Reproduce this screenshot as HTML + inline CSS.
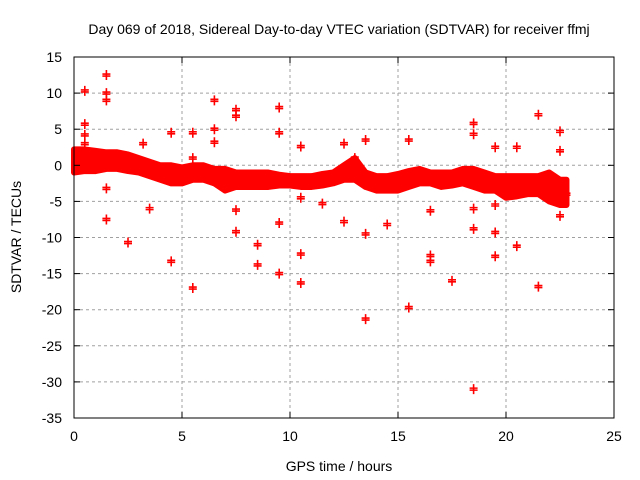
<!DOCTYPE html>
<html><head><meta charset="utf-8"><style>
body{margin:0;background:#fff;}
svg{display:block;font-family:"Liberation Sans",Arial,sans-serif;}
</style></head><body>
<svg id="chart" width="640" height="480" xmlns="http://www.w3.org/2000/svg">
<rect width="640" height="480" fill="#fff"/>
<g id="grid"></g>
<g id="band"></g>
<g id="pts"></g>
<rect x="74" y="57" width="540" height="361" fill="none" stroke="#000" stroke-width="1"/>
<g id="axes"></g>
<text x="339" y="34" text-anchor="middle" font-size="14">Day 069 of 2018, Sidereal Day-to-day VTEC variation (SDTVAR) for receiver ffmj</text>
<text x="339" y="471" text-anchor="middle" font-size="14">GPS time / hours</text>
<text transform="translate(21,237) rotate(-90)" text-anchor="middle" font-size="14">SDTVAR / TECUs</text>
</svg>
<script>
const xTicks=[0,5,10,15,20,25];
const yTicks=[15,10,5,0,-5,-10,-15,-20,-25,-30,-35];
const bandX=[0,0.5,1,1.5,2,2.5,3,3.5,4,4.5,5,5.5,6,6.5,7,7.5,8,8.5,9,9.5,10,10.5,11,11.5,12,12.5,13,13.5,14,14.5,15,15.5,16,16.5,17,17.5,18,18.5,19,19.5,20,20.5,21,21.5,22,22.5,22.8];
const bandLow=[-1,-0.8,-0.8,-0.5,-0.5,-0.8,-1,-1.5,-2,-2.5,-2.5,-2,-2,-2.5,-3.5,-3,-3,-3,-3,-2.8,-2.8,-3,-3,-2.8,-2.5,-2,-2,-3,-3.5,-3.5,-3.5,-3,-2.5,-2.5,-3,-2.8,-2.5,-3,-3.5,-3.5,-4.5,-4.3,-4,-4,-5,-5.5,-5.5];
const bandHigh=[2.2,2.2,2,1.8,1.8,1.5,1,0.5,0,0,-0.3,0,0,-0.5,-0.5,-1,-1,-1,-1,-1.3,-1.5,-1.5,-1.5,-1.2,-1,0,1,-1,-1.5,-1.5,-1.2,-0.8,-0.5,-1,-1,-1,-0.5,-0.5,-1,-1.5,-1.5,-1.5,-1.5,-1.5,-1,-2,-2];
const outX=[0.5,0.5,0.5,0.5,1.5,1.5,1.5,1.5,1.5,2.5,3.5,4.5,4.5,5.5,5.5,5.5,6.5,6.5,6.5,7.5,7.5,7.5,7.5,8.5,8.5,9.5,9.5,9.5,9.5,10.5,10.5,10.5,10.5,11.5,12.5,12.5,13,13.5,13.5,13.5,14.5,15.5,15.5,16.5,16.5,16.5,17.5,18.5,18.5,18.5,18.5,18.5,19.5,19.5,19.5,19.5,20.5,20.5,21.5,21.5,22.5,22.5,22.5,22.8,3.2];
const outY=[10.3,5.7,4.2,3,12.5,10,9,-3.2,-7.5,-10.7,-6,4.5,-13.3,4.5,1,-17,9,5,3.2,7.7,6.8,-6.2,-9.2,-11,-13.8,8,4.5,-8,-15,2.6,-4.5,-12.3,-16.3,-5.3,3,-7.8,1,3.5,-9.5,-21.3,-8.2,3.5,-19.7,-6.3,-12.5,-13.3,-16,5.8,4.3,-6,-8.8,-31,2.5,-5.5,-9.3,-12.6,2.5,-11.2,7,-16.8,4.7,2,-7,-4,3];
const X=v=>74+v*21.6, Y=v=>165.3-v*7.22;
const NS='http://www.w3.org/2000/svg';
function mk(t,a,p){const e=document.createElementNS(NS,t);for(const k in a)e.setAttribute(k,a[k]);p.appendChild(e);return e;}
const grid=document.getElementById('grid'),axes=document.getElementById('axes');
xTicks.forEach(t=>{
 if(t>0&&t<25){const l=mk('line',{x1:X(t),x2:X(t),y1:57,y2:418,stroke:'#a0a0a0','stroke-dasharray':'3,3'},grid);
 
 }
 mk('line',{x1:X(t),x2:X(t),y1:418,y2:412,stroke:'#000'},axes);
 mk('line',{x1:X(t),x2:X(t),y1:57,y2:63,stroke:'#000'},axes);
 const tx=mk('text',{x:X(t),y:441,'text-anchor':'middle','font-size':'14'},axes);tx.textContent=t;
 
 
});
yTicks.forEach(t=>{
 if(t<15&&t>-35){const l=mk('line',{x1:74,x2:614,y1:Y(t),y2:Y(t),stroke:'#a0a0a0','stroke-dasharray':'3,3'},grid);
 
 }
 mk('line',{x1:74,x2:80,y1:Y(t),y2:Y(t),stroke:'#000'},axes);
 mk('line',{x1:614,x2:608,y1:Y(t),y2:Y(t),stroke:'#000'},axes);
 const tx=mk('text',{x:62,y:Y(t)+5,'text-anchor':'end','font-size':'14'},axes);tx.textContent=t;
 
 
});
const band=document.getElementById('band');
const n=Math.min(bandX.length,bandLow.length,bandHigh.length);
let d='M'+X(bandX[0])+','+Y(bandHigh[0]);
for(let i=1;i<n;i++)d+=' L'+X(bandX[i])+','+Y(bandHigh[i]);
for(let i=n-1;i>=0;i--)d+=' L'+X(bandX[i])+','+Y(bandLow[i]);
d+='Z';
const bp=mk('path',{d:d,fill:'#ff0000',stroke:'#ff0000','stroke-width':'6','stroke-linejoin':'round'},band);


const pts=document.getElementById('pts');
for(let i=0;i<Math.min(outX.length,outY.length);i++){
 const x=X(outX[i]),y=Y(outY[i]);
 const p=mk('path',{d:`M${x-4},${y-1}h8M${x},${y-5}v8M${x-4},${y+1}h8M${x},${y-3}v8`,stroke:'#ff0000','stroke-width':'1.6',fill:'none'},pts);
 
 
}
</script>
</body></html>
